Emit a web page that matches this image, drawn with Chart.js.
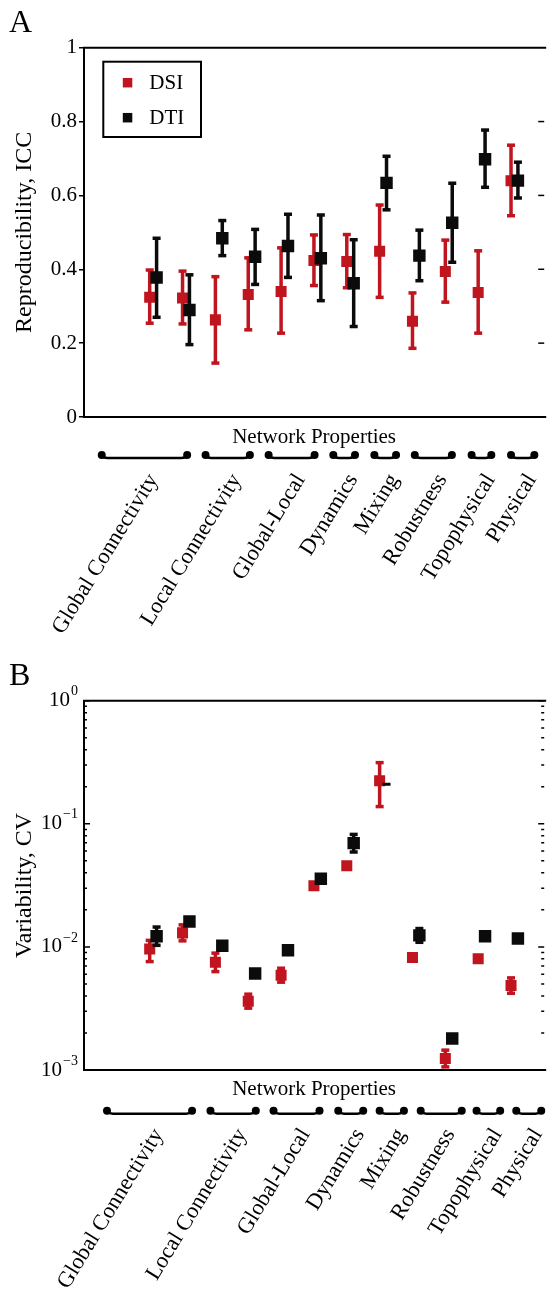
<!DOCTYPE html>
<html><head><meta charset="utf-8">
<script src="https://cdn.jsdelivr.net/npm/chart.js@4.4.1/dist/chart.umd.min.js"></script>
<style>
html,body{margin:0;padding:0;background:#fff;overflow:hidden;width:553px;height:1301px;}
.wrap{position:absolute;left:0;width:553px;}
#wa{top:0;height:650px;} #wb{top:650px;height:651px;}
canvas{display:block;}
</style></head><body>
<div class="wrap" id="wa"><canvas id="ca" width="553" height="650"></canvas></div>
<div class="wrap" id="wb"><canvas id="cb" width="553" height="651"></canvas></div>
<script>
// ---- data ----
const seriesNames = ['DSI', 'DTI'];
const metricPos = [2, 3, 4, 5, 6, 7, 8, 9, 10, 11, 12, 13];

const iccDSI     = [0.324, 0.322, 0.263, 0.332, 0.340, 0.424, 0.421, 0.449, 0.259, 0.394, 0.337, 0.640];
const iccDSILow  = [0.254, 0.252, 0.146, 0.236, 0.227, 0.356, 0.350, 0.324, 0.186, 0.311, 0.227, 0.545];
const iccDSIHigh = [0.398, 0.395, 0.380, 0.431, 0.458, 0.493, 0.494, 0.574, 0.336, 0.479, 0.450, 0.736];
const iccDTI     = [0.378, 0.290, 0.484, 0.434, 0.463, 0.430, 0.362, 0.634, 0.437, 0.526, 0.698, 0.640];
const iccDTILow  = [0.270, 0.196, 0.437, 0.359, 0.378, 0.315, 0.245, 0.561, 0.369, 0.419, 0.622, 0.593];
const iccDTIHigh = [0.484, 0.385, 0.532, 0.508, 0.549, 0.547, 0.480, 0.706, 0.506, 0.633, 0.777, 0.690];

const cvDSI     = [0.0096, 0.0130, 0.0075, 0.00362, 0.00589, 0.0314, 0.0457, 0.224, 0.0082, 0.00124, 0.0080, 0.00486];
const cvDSILow  = [0.0076, 0.0112, 0.0063, 0.00318, 0.00517, null, null, 0.138, null, 0.00106, null, 0.0042];
const cvDSIHigh = [0.0113, 0.0151, 0.0089, 0.00413, 0.00671, null, null, 0.314, null, 0.00145, null, 0.0056];
const cvDTI     = [0.0122, 0.0161, 0.0102, 0.00607, 0.0094, 0.0358, 0.0697, 0.21, 0.0124, 0.0018, 0.0122, 0.0117];
const cvDTILow  = [0.0103, null, null, null, null, null, 0.059, null, 0.0109, null, null, null];
const cvDTIHigh = [0.0145, null, null, null, null, null, 0.082, null, 0.0141, null, null, null];

const groupNames  = ['Global Connectivity', 'Local Connectivity', 'Global-Local', 'Dynamics', 'Mixing', 'Robustness', 'Topophysical', 'Physical'];
const groupStartA = [0.54, 3.70, 5.62, 7.59, 8.84, 10.07, 11.80, 13.00];
const groupEndA   = [3.14, 5.05, 7.02, 8.25, 9.50, 11.20, 12.40, 13.71];
const groupStartB = [0.70, 3.85, 5.77, 7.74, 9.00, 10.25, 11.95, 13.16];
const groupEndB   = [3.29, 5.23, 7.17, 8.50, 9.74, 11.50, 12.67, 13.92];

const iccTicks = [0, 0.2, 0.4, 0.6, 0.8, 1];
const iccTickLabels = ['0', '0.2', '0.4', '0.6', '0.8', '1'];
const cvTicks = [0.001, 0.01, 0.1, 1];
const cvTickExp = ['\u22123', '\u22122', '\u22121', '0'];

// ---- styles ----
const FONT = '"Liberation Serif","Times New Roman",serif';
const RED = '#c0141e';
const BLACK = '#0b0b0b';
const DTI_SHIFT = 0.21;

const errorBars = {
  id: 'errorBars',
  beforeDatasetDraw(chart, args) {
    const ds = chart.data.datasets[args.index];
    if (!ds.errLow) return;
    const xs = chart.scales.x, ys = chart.scales.y, ctx = chart.ctx;
    ctx.save();
    ctx.strokeStyle = ds.backgroundColor; ctx.fillStyle = ds.backgroundColor;
    ctx.lineWidth = 3.5;
    ds.data.forEach((p, i) => {
      const lo = ds.errLow[i], hi = ds.errHigh[i];
      if (lo == null || hi == null) return;
      const px = xs.getPixelForValue(p.x);
      const y1 = ys.getPixelForValue(lo), y2 = ys.getPixelForValue(hi);
      ctx.beginPath(); ctx.moveTo(px, y1); ctx.lineTo(px, y2); ctx.stroke();
      ctx.fillRect(px - 4, y1 - 1.75, 8, 3.5);
      ctx.fillRect(px - 4, y2 - 1.75, 8, 3.5);
    });
    ctx.restore();
  }
};

const decor = {
  id: 'decor',
  afterDraw(chart, args, o) {
    const ctx = chart.ctx, ca = chart.chartArea, xs = chart.scales.x, ys = chart.scales.y;
    ctx.save();
    // frame (right edge lies at the canvas edge)
    ctx.strokeStyle = '#000'; ctx.lineWidth = 2;
    ctx.beginPath();
    ctx.moveTo(ca.right + 2, ca.top); ctx.lineTo(ca.left, ca.top); ctx.lineTo(ca.left, ca.bottom); ctx.lineTo(ca.right + 2, ca.bottom);
    ctx.stroke();
    // inward ticks
    ctx.lineWidth = 1.5;
    (o.innerMajor || []).forEach(v => {
      const y = ys.getPixelForValue(v);
      ctx.beginPath();
      if (o.leftInward) { ctx.moveTo(ca.left, y); ctx.lineTo(ca.left + 6, y); }
      ctx.moveTo(ca.right, y); ctx.lineTo(ca.right - 6, y);
      ctx.stroke();
    });
    (o.innerMinor || []).forEach(v => {
      const y = ys.getPixelForValue(v);
      ctx.beginPath();
      ctx.moveTo(ca.left, y); ctx.lineTo(ca.left + 3, y);
      ctx.moveTo(ca.right, y); ctx.lineTo(ca.right - 3, y);
      ctx.stroke();
    });
    // log tick labels
    if (o.logLabels) {
      ctx.fillStyle = '#000';
      o.logLabels.values.forEach((v, i) => {
        const y = ys.getPixelForValue(v);
        const rx = ca.left - 6;
        ctx.font = '14px ' + FONT; ctx.textAlign = 'right'; ctx.textBaseline = 'middle';
        const ew = ctx.measureText(o.logLabels.exps[i]).width;
        ctx.fillText(o.logLabels.exps[i], rx, y - 9);
        ctx.font = '21px ' + FONT;
        ctx.fillText('10', rx - ew - 1, y);
      });
    }
    // panel letter
    ctx.fillStyle = '#000'; ctx.font = '32px ' + FONT; ctx.textAlign = 'left'; ctx.textBaseline = 'alphabetic';
    ctx.fillText(o.letter, 9, o.letterY);
    // x title
    ctx.font = '21px ' + FONT; ctx.textAlign = 'center'; ctx.textBaseline = 'middle';
    ctx.fillText(o.xTitle, (ca.left + ca.right) / 2, ca.bottom + o.titleDy);
    // group brackets + labels
    const by = ca.bottom + o.bracketDy;
    o.names.forEach((name, i) => {
      const x0 = xs.getPixelForValue(o.starts[i]), x1 = xs.getPixelForValue(o.ends[i]);
      ctx.strokeStyle = '#000'; ctx.lineWidth = 2.5;
      ctx.beginPath();
      ctx.moveTo(x0, by); ctx.quadraticCurveTo(x0 + 1, by + 3, x0 + 6, by + 3);
      ctx.lineTo(x1 - 6, by + 3); ctx.quadraticCurveTo(x1 - 1, by + 3, x1, by);
      ctx.stroke();
      ctx.beginPath(); ctx.arc(x0, by, 4, 0, Math.PI * 2); ctx.fill();
      ctx.beginPath(); ctx.arc(x1, by, 4, 0, Math.PI * 2); ctx.fill();
      ctx.save();
      ctx.translate((x0 + x1) / 2 + 9, by + o.labelDy);
      ctx.rotate(-58.5 * Math.PI / 180);
      ctx.font = '22.5px ' + FONT; ctx.textAlign = 'right'; ctx.textBaseline = 'middle';
      ctx.fillText(name, 0, 0);
      ctx.restore();
    });
    // legend
    if (o.legend) {
      const L = ca.left + 19.3, T = ca.top + 14;
      ctx.lineWidth = 2; ctx.strokeStyle = '#000';
      ctx.strokeRect(L, T, 97.7, 75.3);
      chart.data.datasets.forEach((ds, i) => {
        const cy = T + 21 + i * 35;
        ctx.fillStyle = ds.backgroundColor;
        ctx.fillRect(L + 19.5, cy - 4.75, 9.5, 9.5);
        ctx.fillStyle = '#000'; ctx.font = '21px ' + FONT; ctx.textAlign = 'left'; ctx.textBaseline = 'middle';
        ctx.fillText(ds.label, L + 46, cy + 1);
      });
    }
    ctx.restore();
  }
};

function makeDatasets(vals, lows, highs, color, name, order, shift) {
  return {
    label: name,
    data: metricPos.map((p, i) => ({ x: p + shift, y: vals[i] })),
    errLow: lows, errHigh: highs,
    backgroundColor: color, borderColor: color,
    pointStyle: 'rect',
    pointRadius: name === 'DTI' ? 8.8 : 7.8,
    pointBorderWidth: 0,
    pointHoverRadius: 0,
    showLine: false,
    order: order
  };
}

const minorTicks = [];
[-3, -2, -1].forEach(k => { for (let m = 2; m <= 9; m++) minorTicks.push(m * Math.pow(10, k)); });

const X_MAX = 14.01;

// Panel A
new Chart(document.getElementById('ca'), {
  type: 'scatter',
  data: {
    datasets: [
      makeDatasets(iccDSI, iccDSILow, iccDSIHigh, RED, seriesNames[0], 1, 0),
      makeDatasets(iccDTI, iccDTILow, iccDTIHigh, BLACK, seriesNames[1], 0, DTI_SHIFT)
    ]
  },
  options: {
    responsive: false, animation: false, devicePixelRatio: 1,
    layout: { padding: { top: 47.7, right: 0, left: 0, bottom: 233 } },
    plugins: {
      legend: { display: false }, tooltip: { enabled: false },
      decor: { letter: 'A', letterY: 32, xTitle: 'Network Properties', titleDy: 20, bracketDy: 38, labelDy: 21,
               names: groupNames, starts: groupStartA, ends: groupEndA, legend: true,
               innerMajor: [0.2, 0.4, 0.6, 0.8], leftInward: false }
    },
    scales: {
      x: { type: 'linear', min: 0, max: X_MAX, display: false },
      y: {
        type: 'linear', min: 0, max: 1,
        afterBuildTicks: s => { s.ticks = iccTicks.map(v => ({ value: v })); },
        afterFit: s => { s.width = 84; },
        ticks: { color: '#000', font: { family: FONT, size: 21 }, padding: 2,
                 callback: (v, i) => iccTickLabels[i] },
        grid: { drawOnChartArea: false, drawTicks: true, tickLength: 5, color: '#000', lineWidth: 1.5 },
        border: { display: false },
        title: { display: true, text: 'Reproducibility, ICC', color: '#000', font: { family: FONT, size: 24 }, padding: { top: 10, bottom: 0 } }
      }
    }
  },
  plugins: [errorBars, decor]
});

// Panel B
const dsB = makeDatasets(cvDTI, cvDTILow, cvDTIHigh, BLACK, seriesNames[1], 0, DTI_SHIFT);
dsB.pointStyle = cvDTI.map((v, i) => (i === 7 ? 'line' : 'rect'));
dsB.pointRadius = cvDTI.map((v, i) => (i === 7 ? 4 : 8.8));
dsB.pointBorderWidth = cvDTI.map((v, i) => (i === 7 ? 3 : 0));
new Chart(document.getElementById('cb'), {
  type: 'scatter',
  data: {
    datasets: [
      makeDatasets(cvDSI, cvDSILow, cvDSIHigh, RED, seriesNames[0], 1, 0),
      dsB
    ]
  },
  options: {
    responsive: false, animation: false, devicePixelRatio: 1,
    layout: { padding: { top: 50.7, right: 0, left: 0, bottom: 231 } },
    plugins: {
      legend: { display: false }, tooltip: { enabled: false },
      decor: { letter: 'B', letterY: 35, xTitle: 'Network Properties', titleDy: 19, bracketDy: 40.7, labelDy: 20,
               names: groupNames, starts: groupStartB, ends: groupEndB, legend: false,
               innerMajor: cvTicks, innerMinor: minorTicks, leftInward: true,
               logLabels: { values: cvTicks, exps: cvTickExp } }
    },
    scales: {
      x: { type: 'linear', min: 0, max: X_MAX, display: false },
      y: {
        type: 'logarithmic', min: 0.001, max: 1,
        afterBuildTicks: s => { s.ticks = cvTicks.map(v => ({ value: v })); },
        afterFit: s => { s.width = 84; },
        ticks: { display: false },
        grid: { display: false },
        border: { display: false },
        title: { display: true, text: 'Variability, CV', color: '#000', font: { family: FONT, size: 24 }, padding: { top: 10, bottom: 0 } }
      }
    }
  },
  plugins: [errorBars, decor]
});
</script>
</body></html>
